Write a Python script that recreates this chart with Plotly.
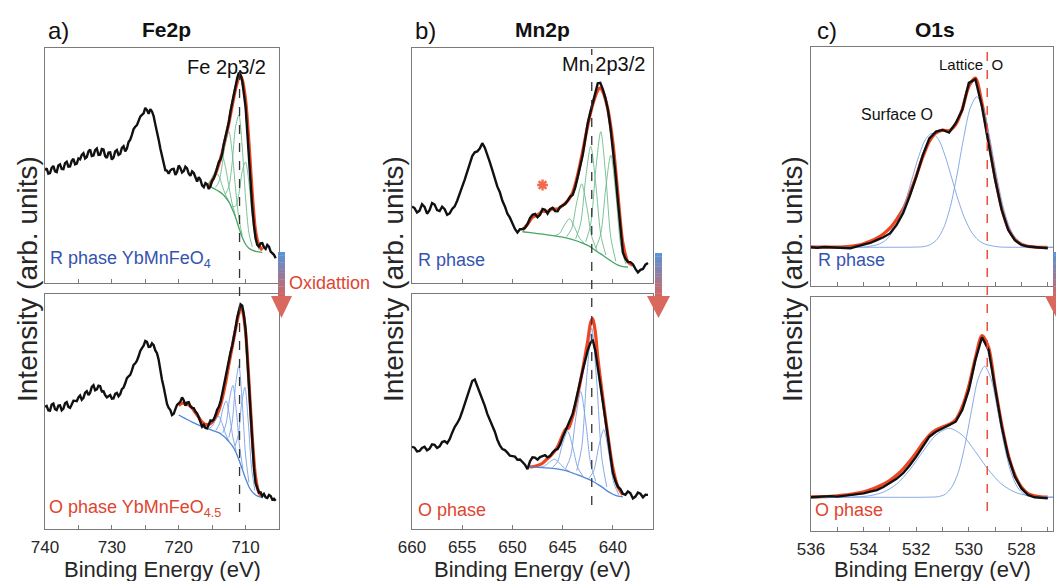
import numpy as np
import plotly.graph_objects as go

W, H = 1056, 581

# ---------------- data: Fe 2p ----------------
# values read on a 0.5 eV grid (740 ... 705.5) plus the in-between readings
fe_E = np.arange(740.0, 705.4, -0.25)  # 740 ... 705.5 (0.25 eV)
feR_main = [48, 46.5, 49, 47.5, 50, 48.5, 51, 49.5, 52, 50.5,
            53, 54.5, 53, 56, 54, 56.5, 54.5, 57, 54, 55.5,
            52.5, 56, 54.5, 57.5, 56, 60, 63, 66.5, 69, 71.5,
            74.5, 72, 73, 67.5, 61, 54, 48, 46.5, 48.5, 46,
            50, 47, 49.5, 46.5, 47.5, 44.5, 45, 41.5, 42.5, 40,
            43.5, 46.5, 51.5, 55, 62.5, 68.5, 77, 83.5, 89.5, 86,
            75, 53, 32, 19, 15.5, 17, 14.5, 15.5, 12.5, 10.5]
feR_mid = [48.8, 46.8, 49.8, 47.2, 50.5, 48.4, 51.6, 49.6, 52.8, 50.8,
           52.6, 55.2, 53.6, 56.8, 54.2, 57.2, 54.6, 56.8, 53.2, 55.6,
           53.4, 56.6, 55.0, 58.2, 57.2, 61.0, 65.5, 67.2, 70.8, 72.2,
           73.6, 74.0, 71.0, 64.6, 57.2, 51.6, 47.8, 47.9, 48.6, 47.2,
           48.9, 47.6, 48.8, 45.6, 46.8, 43.2, 43.9, 40.8, 42.0, 41.2,
           44.6, 49.6, 52.6, 59.2, 65.0, 73.2, 80.0, 87.2, 88.6, 81.5,
           64.5, 42.5, 24.5, 16.2, 16.9, 15.2, 16.2, 13.4, 12.0]
feO_main = [52, 50.5, 53, 51, 52.5, 50.5, 53.5, 52, 53, 54.5,
            56, 55, 58, 57, 60.5, 59, 61, 58.5, 57, 56.5,
            55.5, 57.5, 56.5, 59.5, 62, 65, 67.5, 70.5, 73.5, 77,
            80, 77.5, 79, 76, 72, 63.5, 56, 51.5, 48.5, 51,
            53.5, 56, 52.5, 54, 51.5, 50, 47.5, 43.5, 43, 45,
            46, 48.5, 52, 57.5, 64, 71.5, 78, 85.5, 93.5, 95,
            85, 59, 35, 19.5, 15.5, 14, 13.5, 14.5, 12.5, 12]
feO_mid = [52.4, 50.4, 53.4, 50.6, 52.6, 51.2, 54.0, 51.6, 54.6, 54.4,
           56.8, 55.8, 58.6, 58.0, 61.2, 59.4, 60.8, 58.6, 56.0, 57.0,
           55.6, 57.9, 57.4, 60.2, 64.2, 65.6, 69.8, 71.6, 75.8, 78.0,
           79.6, 77.6, 78.2, 74.8, 67.0, 60.4, 53.2, 50.6, 49.0, 52.8,
           54.2, 54.8, 53.8, 52.2, 51.4, 49.2, 45.0, 44.3, 42.8, 46.2,
           46.6, 50.8, 54.2, 61.2, 67.4, 75.2, 81.4, 90.0, 95.6, 91.0,
           72.5, 46.5, 26.0, 17.0, 15.6, 14.9, 13.2, 14.0, 12.9]

feR_fit_E = [715.5, 715, 714.5, 714, 713.5, 713, 712.5, 712, 711.5, 711, 710.75,
             710.5, 710, 709.5, 709, 708.5, 708, 707.5]
feR_fit_y = [41.5, 43.5, 46.5, 50.5, 55.5, 61.5, 68, 75.5, 82.5, 87.5, 88.2,
             86.5, 78, 60, 38, 22, 16, 14]
feR_bg_E = [715.5, 715, 714.5, 714, 713.5, 713, 712.5, 712, 711.5, 711, 710.5,
            710, 709.5, 709, 708.5, 708, 707.5]
feR_bg_y = [41.5, 40.6, 39.8, 39.0, 38.0, 36.5, 34.5, 31.5, 28.0, 23.5, 19.5,
            16.5, 14.8, 14.0, 13.5, 13.2, 13.0]
feR_comp_E = [[715.5, 715, 714.5, 714, 713.5, 713, 712.5],
              [715.5, 715, 714.5, 714, 713.5, 713, 712.5, 712, 711.5],
              [714.5, 714, 713.5, 713, 712.5, 712, 711.5, 711, 710.5],
              [713, 712.5, 712, 711.5, 711, 710.5, 710, 709.5, 709],
              [712, 711.5, 711, 710.5, 710, 709.5, 709, 708.5, 708]]
feR_comp_y = [[42.5, 45.0, 47.0, 45.5, 41.5, 37.5, 34.7],
              [42.0, 42.8, 46.4, 51.8, 54.0, 49.3, 41.1, 33.7, 28.5],
              [40.7, 43.0, 50.3, 60.5, 64.5, 55.5, 40.3, 27.5, 20.4],
              [37.9, 41.0, 51.2, 66.4, 71.5, 57.9, 36.2, 21.3, 15.4],
              [32.5, 32.7, 37.9, 47.5, 51.5, 42.8, 28.4, 18.2, 14.2]]

feO_fit_E = [720, 719.5, 719, 718.5, 718, 717.5, 717, 716.5, 716, 715.5, 715, 714.5,
             714, 713.5, 713, 712.5, 712, 711.5, 711, 710.75, 710.5, 710, 709.5,
             709, 708.5, 708, 707.5]
feO_fit_y = [52.5, 53.5, 53.5, 52.8, 51.5, 49.5, 47.5, 45.5, 44.5, 44.5, 45.5, 47.5,
             50.5, 55.5, 62, 70, 77.5, 85, 92, 94.5, 93.5, 84, 63,
             39, 22, 15.5, 13.8]
feO_bg_E = [720, 719, 718, 717, 716, 715.5, 715, 714.5, 714, 713.5, 713, 712.5,
            712, 711.5, 711, 710.5, 710, 709.5, 709, 708.5, 708, 707.5]
feO_bg_y = [48.5, 47.0, 45.5, 44.2, 43.0, 42.5, 42.0, 41.5, 41.0, 40.0, 38.8, 37.2,
            35.5, 33.0, 29.5, 25.5, 21.5, 18.0, 15.8, 14.5, 13.8, 13.5]
feO_comp_E = [[715.5, 715, 714.5, 714, 713.5, 713, 712.5],
              [714.4, 713.9, 713.4, 712.9, 712.4, 711.9, 711.4],
              [713.4, 712.9, 712.4, 711.9, 711.4, 710.9, 710.4],
              [712.5, 712, 711.5, 711, 710.5, 710, 709.5],
              [711.6, 711.1, 710.6, 710.1, 709.6, 709.1, 708.6]]
feO_comp_y = [[42.8, 43.7, 46.4, 48.0, 44.9, 40.5, 37.5],
              [42.1, 44.8, 51.1, 54.5, 48.2, 39.1, 33.1],
              [40.9, 45.0, 55.3, 61.1, 50.8, 35.3, 25.8],
              [39.0, 45.5, 61.3, 69.5, 53.8, 31.5, 19.8],
              [35.2, 39.8, 53.2, 60.3, 45.6, 25.7, 16.4]]

# ---------------- data: Mn 2p ----------------
mn_E = np.arange(660.0, 636.4, -0.25)  # 660 ... 636.5 (0.25 eV)
mnR_main = [32.5, 30, 33.5, 29.5, 34, 31, 32.5, 29, 31.5, 35,
            41, 47.5, 54, 56, 59.5, 54, 48, 41, 35, 29.5,
            25.5, 21.5, 23, 25, 29, 28, 31.5, 29.5, 32, 30.5,
            33, 35, 37.5, 45, 54.5, 68, 77, 85, 82.5, 74,
            58, 35, 13, 9, 8, 4.5, 6, 8.5]
mnR_mid = [31.9, 30.8, 32.4, 31.0, 33.4, 30.6, 31.4, 29.6, 32.6, 38.4,
           44.0, 51.2, 55.6, 57.2, 57.6, 51.4, 44.2, 38.6, 32.6, 27.8,
           23.0, 22.9, 23.4, 27.6, 29.4, 29.0, 31.2, 31.4, 30.6, 32.4,
           33.6, 36.8, 40.6, 49.6, 61.2, 72.4, 81.6, 85.2, 78.8, 66.5,
           47.0, 23.5, 10.4, 8.9, 6.0, 5.6, 7.8]
mnO_main = [35, 33, 34.5, 33.5, 36, 34.5, 37, 36.5, 41, 45,
            50, 56, 63, 61, 55, 49, 43.5, 38, 34, 32.5,
            31, 29.5, 28.5, 25.5, 30.5, 29.5, 31, 30.5, 32.5, 34,
            39, 43.5, 49, 57.5, 67.5, 76, 80.5, 69, 55, 39.5,
            24, 18, 15, 16, 13, 15.5, 13.5, 14.5]
mnO_mid = [34.6, 33.2, 35.0, 34.2, 35.8, 35.2, 37.4, 38.2, 43.4, 47.0,
           53.4, 59.2, 63.6, 58.4, 52.4, 46.6, 41.4, 35.6, 33.6, 31.2,
           30.8, 29.6, 27.4, 28.8, 30.4, 30.6, 31.4, 31.0, 33.6, 36.0,
           41.6, 46.0, 53.4, 62.8, 72.2, 79.0, 76.0, 62.0, 47.0, 31.5,
           20.5, 17.0, 14.6, 15.2, 13.8, 15.0, 14.6]

mnR_fit_E = [649, 648.5, 648, 647.5, 647, 646.5, 646, 645.5, 645, 644.5, 644, 643.5,
             643, 642.5, 642, 641.5, 641.25, 641, 640.5, 640, 639.5, 639, 638.5, 638]
mnR_fit_y = [22.5, 25, 28, 29, 30.5, 30.5, 31.5, 31.5, 33, 35, 38.5, 46,
             56, 67, 76, 82, 83, 81.5, 74, 60, 38, 17, 9, 7.5]
mnR_bg_E = [649, 648, 647, 646, 645, 644, 643, 642.5, 642, 641.5, 641, 640.5,
            640, 639.5, 639, 638.5]
mnR_bg_y = [21.8, 21.3, 20.8, 20.2, 19.5, 18.5, 17.0, 16.0, 14.7, 13.2, 11.8, 10.3,
            8.8, 7.6, 7.0, 6.8]
mnR_comp_E = [[645.8, 645.3, 644.8, 644.3, 643.8, 643.3, 642.8],
              [644.6, 644.1, 643.6, 643.1, 642.6, 642.1, 641.6],
              [643.7, 643.2, 642.7, 642.2, 641.7, 641.2, 640.7],
              [642.7, 642.2, 641.7, 641.2, 640.7, 640.2, 639.7],
              [641.7, 641.2, 640.7, 640.2, 639.7, 639.2, 638.7]]
mnR_comp_y = [[20.1, 21.1, 24.8, 27.3, 23.6, 19.0, 16.8],
              [19.7, 23.2, 34.2, 42.2, 32.7, 19.8, 14.1],
              [18.8, 25.5, 44.8, 58.2, 42.2, 20.6, 11.9],
              [17.6, 25.1, 48.2, 64.4, 45.3, 19.3, 9.3],
              [14.9, 21.0, 40.6, 54.4, 37.8, 15.8, 8.0]]
star_E = [647.0]
star_y = [41.7]

mnO_fit_E = [648.3, 648, 647.5, 647, 646.5, 646, 645.5, 645, 644.7, 644.4, 644, 643.5,
             643, 642.5, 642.2, 642, 641.75, 641.5, 641, 640.5, 640, 639.5, 639]
mnO_fit_y = [26.5, 26.5, 27, 28, 30, 32, 35, 40, 42.5, 43, 48, 57,
             68, 80, 88, 89.5, 84, 73, 56, 40, 26, 18, 14.5]
mnO_bg_E = [648.3, 648, 647, 646, 645, 644.5, 644, 643.5, 643, 642.5, 642, 641.5,
            641, 640.5, 640, 639.5, 639]
mnO_bg_y = [26.5, 26.4, 26.1, 25.8, 25.2, 24.6, 23.8, 23.0, 22.2, 21.3, 20.3, 19.0,
            17.6, 16.0, 14.8, 14.0, 13.7]
mnO_comp_E = [[647.3, 646.8, 646.3, 645.8, 645.3, 644.8, 644.3],
              [646.0, 645.5, 645.0, 644.5, 644.0, 643.5, 643.0],
              [644.7, 644.2, 643.7, 643.2, 642.7, 642.2, 641.7],
              [643.6, 643.1, 642.6, 642.1, 641.6, 641.1, 640.6],
              [642.4, 641.9, 641.4, 640.9, 640.4, 639.9, 639.4]]
mnO_comp_y = [[26.3, 26.8, 28.5, 29.7, 28.0, 25.8, 24.4],
              [26.2, 28.7, 36.4, 41.6, 35.0, 26.2, 22.6],
              [25.7, 31.0, 47.1, 58.5, 45.5, 27.6, 20.4],
              [24.8, 34.8, 64.5, 85.5, 62.3, 30.3, 17.9],
              [21.5, 24.8, 35.2, 42.3, 32.3, 19.5, 14.5]]

# ---------------- data: O 1s (0.25 eV grid) ----------------
o_E = np.arange(536.0, 526.9, -0.25)  # 536 ... 527
oR_y = [16.2, 16.0, 16.3, 16.1, 16.2, 15.9, 15.8, 16.6, 17.2, 18.0,
        19.2, 20.4, 22.0, 25.5, 30.4, 37.5, 45.7, 54.8, 61.8, 64.6,
        65.3, 64.2, 68.1, 73.6, 85.0, 86.5, 75.0, 59.7, 44.4, 31.8,
        23.4, 19.2, 17.2, 16.5, 16.2, 16.0, 15.8]
oR_fit_y = [16.4, 16.3, 16.3, 16.3, 16.3, 16.4, 16.6, 17.0, 17.7, 18.7,
            20.0, 21.8, 24.2, 27.8, 32.2, 38.5, 46.0, 54.0, 60.5, 64.0,
            65.2, 65.0, 67.5, 74.0, 83.5, 87.0, 76.5, 61.0, 45.5, 32.5,
            24.0, 19.6, 17.5, 16.6, 16.3, 16.2, 16.2]
oO_y = [14.4, 14.6, 14.5, 14.9, 14.7, 15.0, 15.4, 15.9, 16.1, 16.8,
        17.5, 18.8, 20.4, 22.3, 24.7, 28.0, 31.8, 36.0, 40.3, 42.4,
        43.9, 45.3, 46.7, 51.7, 60.3, 73.1, 82.8, 77.4, 60.3, 44.6,
        31.8, 23.2, 18.2, 15.4, 14.4, 14.1, 14.0]
oO_fit_y = [14.6, 14.6, 14.7, 14.8, 15.0, 15.3, 15.7, 16.2, 16.8, 17.6,
            18.7, 20.0, 21.7, 23.8, 26.5, 29.8, 33.5, 37.5, 41.0, 43.2,
            44.5, 45.5, 47.5, 53.0, 62.0, 74.0, 83.5, 78.5, 61.5, 45.5,
            32.5, 24.0, 18.8, 16.0, 15.0, 14.6, 14.5]
oR_surf_E = [536, 535, 533.9, 533.4, 533.15, 532.9, 532.65, 532.4, 532.15, 531.9, 531.65,
             531.4, 531.15, 530.9, 530.65, 530.4, 530.15, 529.9, 529.65, 529.4, 528.9,
             528, 526.8]
oR_surf_y = [16.2, 16.2, 16.4, 17.6, 19.3, 22.6, 28.1, 35.8, 45.2, 54.4, 61.3,
             63.9, 61.3, 54.4, 45.2, 35.8, 28.1, 22.6, 19.3, 17.6, 16.4,
             16.2, 16.2]
oR_latt_E = [536, 533, 532.2, 531.7, 531.45, 531.2, 530.95, 530.7, 530.45, 530.2, 529.95,
             529.7, 529.45, 529.2, 528.95, 528.7, 528.45, 528.2, 527.95, 527.7, 527.2, 526.8]
oR_latt_y = [16.2, 16.2, 16.25, 16.5, 17.4, 19.6, 24.5, 33.3, 46.5, 61.7, 74.3,
             79.2, 74.3, 61.7, 46.5, 33.3, 24.5, 19.6, 17.4, 16.5, 16.2, 16.2]
oO_surf_E = [536, 535, 534.25, 533.75, 533.25, 532.75, 532.25, 531.75, 531.25, 530.75,
             530.25, 529.75, 529.25, 528.75, 528.25, 527.75, 527.25, 526.8]
oO_surf_y = [14.4, 14.4, 14.6, 15.1, 16.6, 20.0, 26.1, 33.9, 41.0, 43.9,
             41.0, 33.9, 26.1, 20.0, 16.6, 15.1, 14.6, 14.5]
oO_latt_E = [536, 533, 531.6, 531.15, 530.9, 530.65, 530.4, 530.15, 529.9, 529.65, 529.4,
             529.15, 528.9, 528.65, 528.4, 528.15, 527.9, 527.65, 527.2, 526.8]
oO_latt_y = [14.4, 14.4, 14.45, 14.7, 15.7, 18.7, 25.1, 36.5, 51.4, 64.9, 70.4,
             64.9, 51.4, 36.5, 25.1, 18.7, 15.7, 14.7, 14.4, 14.4]

ref_lines = [710.9, 642.1, 529.3]


def weave(main, mid):
    out = []
    for i, v in enumerate(main):
        out.append(v)
        if i < len(mid):
            out.append(mid[i])
    return out


feR_y = weave(feR_main, feR_mid)
feO_y = weave(feO_main, feO_mid)
mnR_y = weave(mnR_main, mnR_mid)
mnO_y = weave(mnO_main, mnO_mid)

# ---------------- styling ----------------
FONT = "Liberation Sans, Arial, sans-serif"
BLACK = "#111111"
RED = "#f0441f"
GREEN = "#6cbb8c"
GREEN_BG = "#47a568"
BLUE = "#78a0e2"
BLUE_BG = "#4f86d8"
TXT_BLUE = "#3553b0"
TXT_RED = "#e0452f"
FRAME = "#7a7a7a"


def px(x):
    return x / W


def py(y):
    return 1 - y / H


fig = go.Figure()


def add_line(E, y, ax, color, width, shape="spline"):
    fig.add_trace(go.Scatter(
        x=list(E), y=y, xaxis="x" + ax, yaxis="y" + ax, mode="lines",
        line=dict(color=color, width=width, shape=shape, smoothing=0.8),
        hoverinfo="skip", showlegend=False))


def add_panel(ax, E, y, fitE, fity, bgE, bgy, compE, compy, ccol, bcol):
    add_line(fitE, fity, ax, RED, 3.2)
    for cE, cy in zip(compE, compy):
        add_line(cE, cy, ax, ccol, 0.9)
    if bgE is not None:
        add_line(bgE, bgy, ax, bcol, 1.3)
    add_line(E, y, ax, BLACK, 2.4, shape="linear")


add_panel("", fe_E, feR_y, feR_fit_E, feR_fit_y, feR_bg_E, feR_bg_y,
          feR_comp_E, feR_comp_y, GREEN, GREEN_BG)
add_panel("2", fe_E, feO_y, feO_fit_E, feO_fit_y, feO_bg_E, feO_bg_y,
          feO_comp_E, feO_comp_y, BLUE, BLUE_BG)
add_panel("3", mn_E, mnR_y, mnR_fit_E, mnR_fit_y, mnR_bg_E, mnR_bg_y,
          mnR_comp_E, mnR_comp_y, GREEN, GREEN_BG)
add_panel("4", mn_E, mnO_y, mnO_fit_E, mnO_fit_y, mnO_bg_E, mnO_bg_y,
          mnO_comp_E, mnO_comp_y, BLUE, BLUE_BG)
add_panel("5", o_E, oR_y, o_E, oR_fit_y, None, None,
          [oR_surf_E, oR_latt_E], [oR_surf_y, oR_latt_y], BLUE, BLUE)
add_panel("6", o_E, oO_y, o_E, oO_fit_y, None, None,
          [oO_surf_E, oO_latt_E], [oO_surf_y, oO_latt_y], BLUE, BLUE)

fig.add_trace(go.Scatter(
    x=star_E, y=star_y, xaxis="x3", yaxis="y3", mode="markers",
    marker=dict(symbol="asterisk-open", size=9, color="#f26b4f",
                line=dict(color="#f26b4f", width=2.4)),
    hoverinfo="skip", showlegend=False))

# ---------------- axes ----------------
xdom = {"a": [px(45), px(279)], "b": [px(412), px(653)], "c": [px(811), px(1053)]}
ytop_ab = [py(283), py(48)]
ybot_ab = [py(529), py(294)]
ytop_c = [py(286), py(47)]
ybot_c = [py(531), py(297)]

tickfont = dict(family=FONT, size=17, color="#262626")


def xax(dom, rng, dtick, minor, labels, anchor):
    return dict(domain=dom, range=rng, anchor=anchor, showline=True, mirror=True,
                linecolor=FRAME, linewidth=1.2, ticks="inside", ticklen=4,
                tickcolor=FRAME, tick0=0, dtick=dtick, showticklabels=labels,
                tickfont=tickfont, showgrid=False, zeroline=False,
                automargin=False, ticklabelstandoff=2,
                minor=dict(dtick=minor, ticks="inside", ticklen=4, tickcolor=FRAME))


def yax(dom, anchor):
    return dict(domain=dom, range=[0, 100], anchor=anchor, showline=True, mirror=True,
                linecolor=FRAME, linewidth=1.2, ticks="", showticklabels=False,
                showgrid=False, zeroline=False, automargin=False)


layout_axes = dict(
    xaxis=xax(xdom["a"], [740, 705], 10, 5, False, "y"),
    yaxis=yax(ytop_ab, "x"),
    xaxis2=xax(xdom["a"], [740, 705], 10, 5, True, "y2"),
    yaxis2=yax(ybot_ab, "x2"),
    xaxis3=xax(xdom["b"], [660, 636], 5, 5, False, "y3"),
    yaxis3=yax(ytop_ab, "x3"),
    xaxis4=xax(xdom["b"], [660, 636], 5, 5, True, "y4"),
    yaxis4=yax(ybot_ab, "x4"),
    xaxis5=xax(xdom["c"], [536, 526.8], 2, 1, False, "y5"),
    yaxis5=yax(ytop_c, "x5"),
    xaxis6=xax(xdom["c"], [536, 526.8], 2, 1, True, "y6"),
    yaxis6=yax(ybot_c, "x6"),
)

# ---------------- annotations ----------------
ann = []


def text(t, x, y, size, color="#111111", xanchor="center", angle=0, bold=False):
    ann.append(dict(text=("<b>%s</b>" % t) if bold else t, x=px(x), y=py(y),
                    xref="paper", yref="paper", showarrow=False, xanchor=xanchor,
                    yanchor="middle", textangle=angle,
                    font=dict(family=FONT, size=size, color=color)))


text("a)", 58, 31, 24)
text("Fe2p", 166, 29, 21, bold=True)
text("b)", 425, 31, 24)
text("Mn2p", 542, 29, 21, bold=True)
text("c)", 827, 31, 24)
text("O1s", 935, 29, 21, bold=True)

for xc in [27, 393, 792]:
    text("Intensity (arb. units)", xc, 279, 28, color="#262626", angle=-90)
for xc in [162, 532, 932]:
    text("Binding Energy (eV)", xc, 569, 22, color="#262626")

text("Fe 2p3/2", 226, 67, 20)
text("Mn 2p3/2", 603, 64, 20)
text("Lattice  O", 971, 65, 15)
text("Surface O", 897, 115, 16)

text("R phase YbMnFeO<sub>4</sub>", 48, 259, 18, TXT_BLUE, "left")
text("O phase YbMnFeO<sub>4.5</sub>", 47, 508, 18, TXT_RED, "left")
text("R phase", 416, 260, 18, TXT_BLUE, "left")
text("O phase", 416, 510, 18, TXT_RED, "left")
text("R phase", 816, 260, 18, TXT_BLUE, "left")
text("O phase", 813, 510, 18, TXT_RED, "left")
text("Oxidattion", 287, 283, 18, TXT_RED, "left")

# ---------------- shapes ----------------
shapes = []
shapes.append(dict(type="line", xref="x", yref="paper", x0=ref_lines[0], x1=ref_lines[0],
                   y0=py(512), y1=py(60), line=dict(color="#333333", width=1.3, dash="dash")))
shapes.append(dict(type="line", xref="x3", yref="paper", x0=ref_lines[1], x1=ref_lines[1],
                   y0=py(505), y1=py(49), line=dict(color="#333333", width=1.3, dash="dash")))
shapes.append(dict(type="line", xref="x5", yref="paper", x0=ref_lines[2], x1=ref_lines[2],
                   y0=py(511), y1=py(48), line=dict(color="#e8503a", width=1.5, dash="dash")))


def arrow(xl, xr, ytop, ybar, hl, hr, ytip):
    n = 14
    c0 = np.array([91, 147, 214])
    c1 = np.array([214, 100, 92])
    for i in range(n):
        t = i / (n - 1)
        c = (1 - t) * c0 + t * c1
        ya = ytop + (ybar - ytop) * i / n
        yb = ytop + (ybar - ytop) * (i + 1) / n
        shapes.append(dict(type="rect", xref="paper", yref="paper",
                           x0=px(xl), x1=px(xr), y0=py(yb) - 0.0005, y1=py(ya),
                           fillcolor="rgb(%d,%d,%d)" % tuple(c.astype(int)),
                           line=dict(width=0), layer="above"))
    xm = (hl + hr) / 2
    path = "M %f,%f L %f,%f L %f,%f Z" % (px(hl), py(ybar - 4), px(hr), py(ybar - 4),
                                          px(xm), py(ytip))
    shapes.append(dict(type="path", xref="paper", yref="paper", path=path,
                       fillcolor="rgb(217,104,94)", line=dict(width=0), layer="above"))


arrow(278, 285, 252, 300, 271, 292, 318)
arrow(655, 662, 253, 300, 647, 670, 318)
arrow(1053, 1060, 252, 300, 1045, 1068, 318)

fig.update_layout(
    width=W, height=H, margin=dict(l=0, r=0, t=0, b=0, autoexpand=False),
    paper_bgcolor="white", plot_bgcolor="white",
    font=dict(family=FONT),
    annotations=ann, shapes=shapes, showlegend=False,
    **layout_axes)

fig.write_html("out.html", config={"displayModeBar": False},
               post_script="document.body.style.margin='0px';document.body.style.overflow='hidden';")
